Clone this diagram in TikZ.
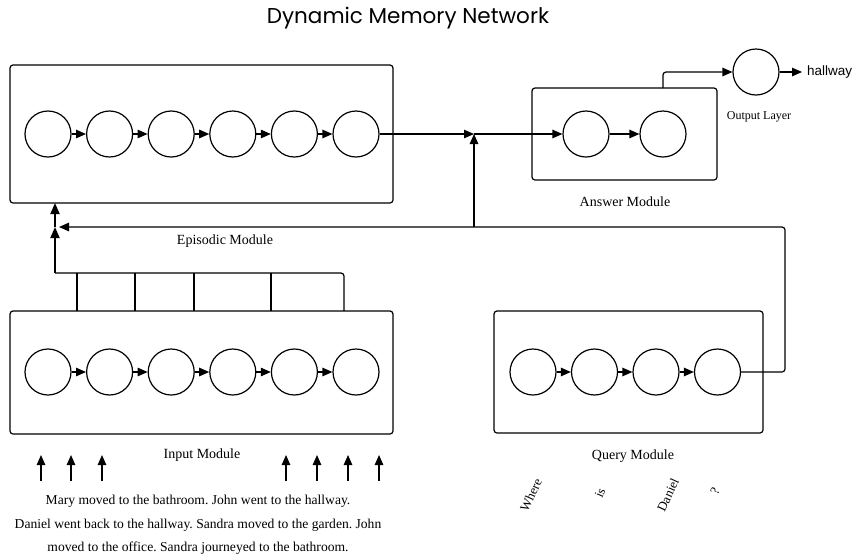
\documentclass[tikz,border=0pt]{standalone}
\usepackage{fontspec}
\setmainfont{Liberation Serif}
\newfontfamily\titlefont{Poppins}
\newfontfamily\labelsans{Liberation Sans}
\usetikzlibrary{arrows.meta}
\begin{document}
\frenchspacing
\begin{tikzpicture}[x=1pt,y=-1pt,
  mbox/.style={draw, line width=1.2pt, rounded corners=3pt},
  cell/.style={circle, draw, line width=1.2pt, minimum size=46pt, inner sep=0pt},
  wire/.style={line width=1.2pt},
  link/.style={line width=1.2pt, -{Triangle[length=10pt,width=8.5pt]}},
  thicklink/.style={line width=1.8pt, -{Triangle[length=11pt,width=9pt]}},
  lbl/.style={font=\fontsize{14}{16}\selectfont, inner sep=0pt},
  word/.style={font=\fontsize{13}{15}\selectfont, inner sep=0pt, rotate=65}
]
\useasboundingbox (0,0) rectangle (854,558);

% title
\node[font=\titlefont\fontsize{21.5}{24}\selectfont, inner sep=0pt] (title) at (408,18) {Dynamic Memory Network};

% boxes
\node[mbox, minimum width=383pt, minimum height=138pt] (epi) at (201.5,134) {};
\node[mbox, minimum width=383pt, minimum height=123pt] (inp) at (201.5,372.5) {};
\node[mbox, minimum width=185pt, minimum height=92pt] (ans) at (624.5,134) {};
\node[mbox, minimum width=269pt, minimum height=122pt] (qry) at (628.5,372) {};

% cells
\foreach \i/\x in {1/48,2/109.6,3/171.2,4/232.8,5/294.4,6/356} {
  \node[cell] (e\i) at (\x,134) {};
  \node[cell] (i\i) at (\x,372) {};
}
\foreach \i/\x in {1/533,2/594.5,3/656,4/717.5} {
  \node[cell] (q\i) at (\x,372) {};
}
\node[cell] (a1) at (586,134) {};
\node[cell] (a2) at (663,134) {};
\node[cell] (out) at (756,72) {};

% chains
\foreach \a/\b in {1/2,2/3,3/4,4/5,5/6} {
  \draw[link] (e\a) -- (e\b);
  \draw[link] (i\a) -- (i\b);
}
\foreach \a/\b in {1/2,2/3,3/4} {
  \draw[link] (q\a) -- (q\b);
}
\draw[link] (a1) -- (a2);

% episodic -> answer
\coordinate (join) at (474,134);
\draw[link] (e6) -- (join);
\draw[link] (join) -- (a1);

% answer -> output
\coordinate (atop) at (663,88);
\draw[link, rounded corners=3pt] (atop) |- (out);
\coordinate (hw) at (802,72);
\draw[link] (out) -- (hw);

% query -> episodic and answer
\coordinate (qr) at (785,227);
\coordinate (qb) at (474,227);
\coordinate (ein) at (59,227);
\draw[link, rounded corners=3pt] (q4.east) -| (qr) -- (ein);
\draw[link] (qb) -- (join);

% input -> episodic bus
\foreach \x in {77,135,194,271} {
  \draw[wire] (\x,311) -- (\x,273);
}
\coordinate (bus) at (55,273);
\coordinate (mid) at (55,227);
\coordinate (etop) at (55,203);
\draw[wire, rounded corners=3pt] (344,311) -- (344,273) -- (bus);
\draw[thicklink] (bus) -- (mid);
\draw[thicklink] (mid) -- (etop);

% input arrows
\foreach \x in {41,71,102,286,317,348,379} {
  \draw[link] (\x,481) -- (\x,455);
}

% labels
\node[lbl] (lepi) at (225,241) {Episodic Module};
\node[lbl] (linp) at (202,455) {Input Module};
\node[lbl] (lqry) at (633,456) {Query Module};
\node[lbl] (lans) at (625,202) {Answer Module};
\node[font=\fontsize{12}{14}\selectfont, inner sep=0pt] (lout) at (759,117) {Output Layer};
\node[font=\labelsans\fontsize{13.5}{15}\selectfont, inner sep=0pt, anchor=west] (lhw) at (807,72) {hallway};

% story
\node[font=\fontsize{13.6}{23.5}\selectfont, align=center, inner sep=0pt] (story) at (198,525)
  {Mary moved to the bathroom. John went to the hallway.\\
   Daniel went back to the hallway. Sandra moved to the garden. John\\
   moved to the office. Sandra journeyed to the bathroom.};

% query words
\node[word] (w1) at (531,495) {Where};
\node[word] (w2) at (600,493) {is};
\node[word] (w3) at (668,495) {Daniel};
\node[word] (w4) at (715,491) {?};
\end{tikzpicture}
\end{document}
